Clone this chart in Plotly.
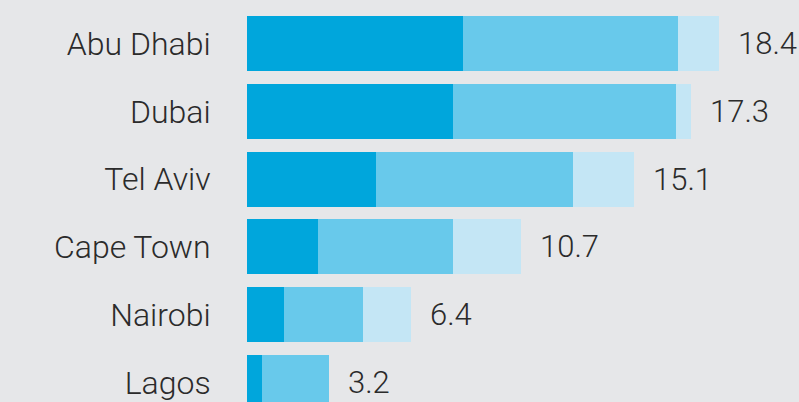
import plotly.graph_objects as go

cities = ["Abu Dhabi", "Dubai", "Tel Aviv", "Cape Town", "Nairobi", "Lagos"]
seg1 = [8.42, 8.03, 5.03, 2.77, 1.44, 0.58]
seg2 = [8.37, 8.69, 7.68, 5.26, 3.08, 2.62]
seg3 = [1.61, 0.58, 2.39, 2.67, 1.88, 0.0]
totals = [18.4, 17.3, 15.1, 10.7, 6.4, 3.2]
total_labels = ["18.4", "17.3", "15.1", "10.7", "6.4", "3.2"]

colors = ["#00a6dc", "#68c9eb", "#c4e6f5"]
font_family = "Roboto, Liberation Sans, Arial, sans-serif"
text_color = "#2b2b2b"

fig = go.Figure()
for vals, col in zip([seg1, seg2, seg3], colors):
    fig.add_trace(go.Bar(
        y=cities, x=vals, orientation="h",
        marker=dict(color=col, line=dict(width=0)),
        hoverinfo="skip",
    ))

for c, t, lab in zip(cities, totals, total_labels):
    fig.add_annotation(
        x=t, y=c, text=lab, showarrow=False,
        xanchor="left", yanchor="middle", xshift=17,
        font=dict(family=font_family, size=31, color=text_color, weight=300),
    )

fig.update_layout(
    width=799, height=402,
    barmode="stack", bargap=0.19,
    showlegend=False,
    paper_bgcolor="#e6e7e9", plot_bgcolor="#e6e7e9",
    margin=dict(l=247, r=0, t=0, b=0),
    xaxis=dict(range=[0, 552 / 25.65], visible=False, fixedrange=True),
    yaxis=dict(
        type="category",
        range=[5.2876, -0.6416],
        showgrid=False, zeroline=False, showline=False,
        ticks="outside", ticklen=0, ticklabelstandoff=29,
        tickfont=dict(family=font_family, size=32, color=text_color, weight=300),
        fixedrange=True,
    ),
)

fig.write_html(
    "out.html",
    config={"displayModeBar": False},
    post_script="document.body.style.margin='0';document.body.style.overflow='hidden';document.body.style.background='#e6e7e9';",
)
